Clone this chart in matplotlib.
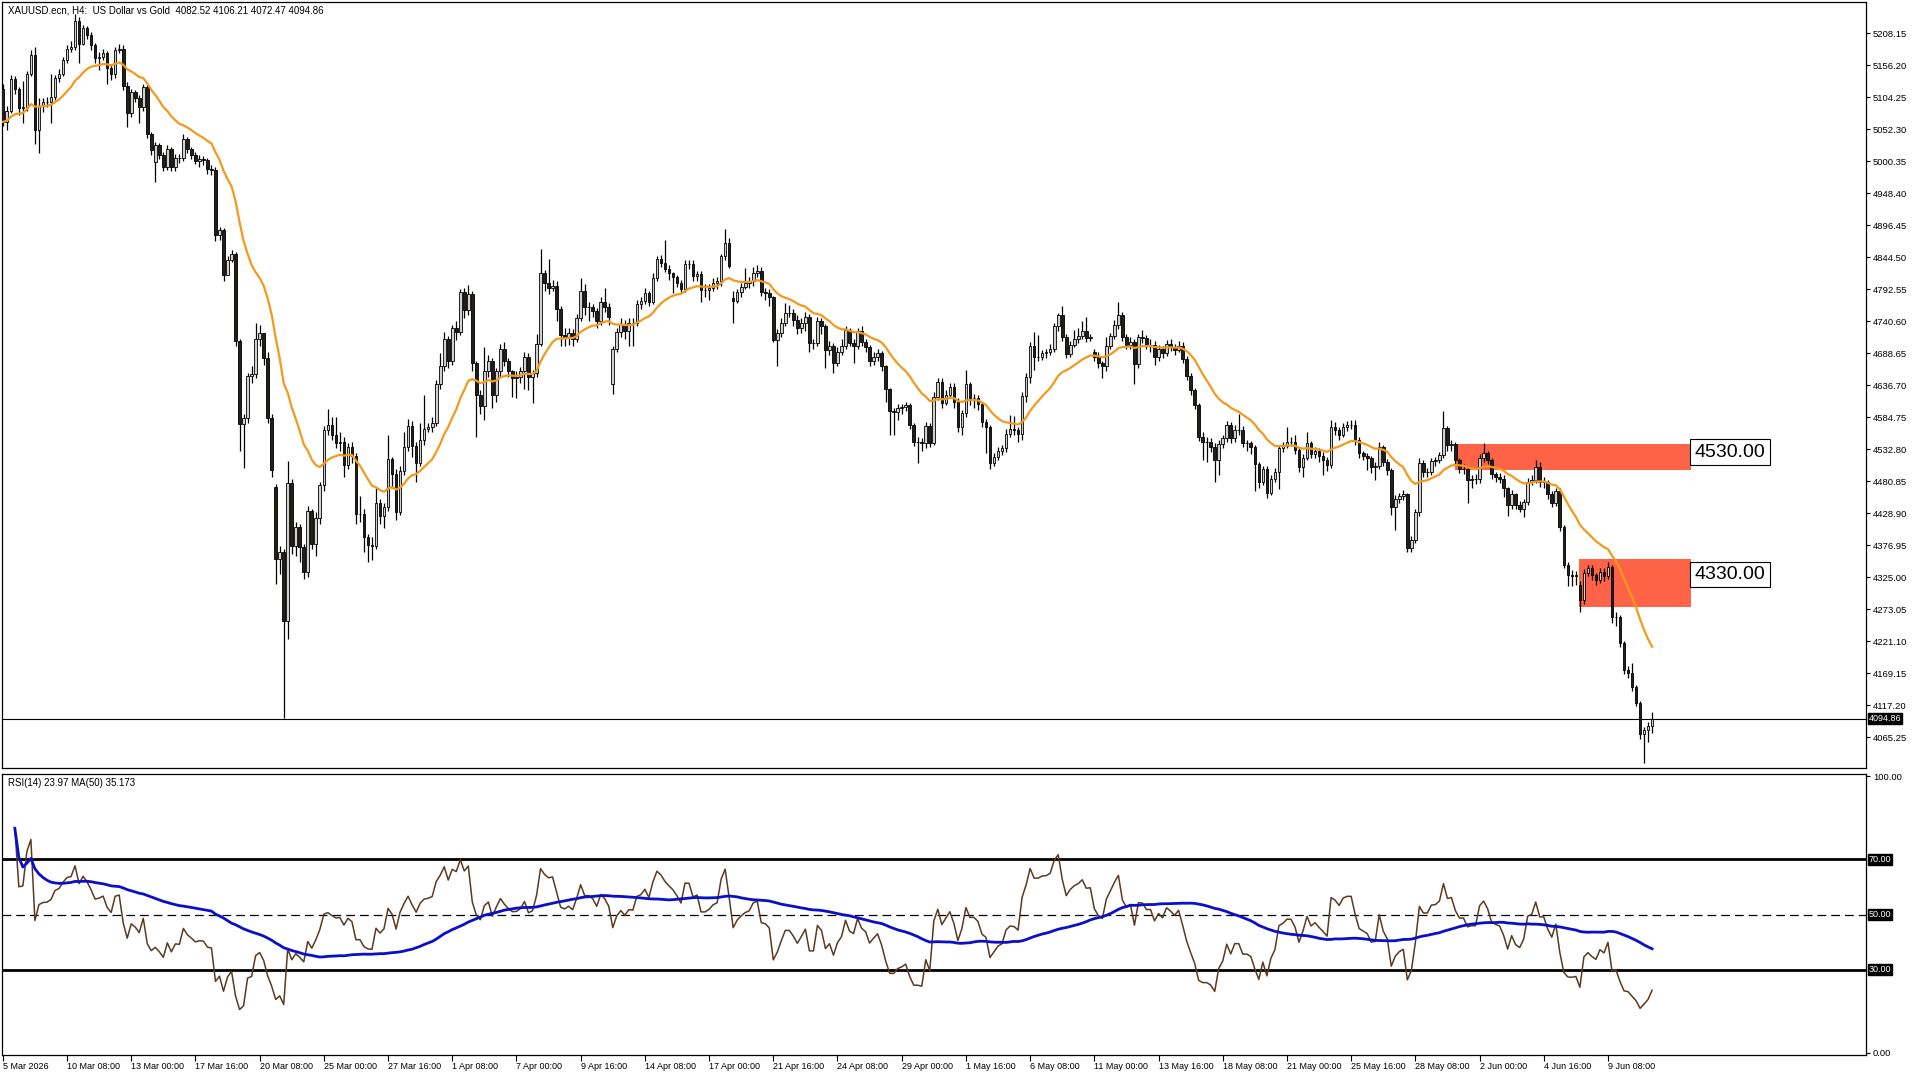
import numpy as np
import pandas as pd
import matplotlib
matplotlib.use("Agg")
import matplotlib.pyplot as plt
from matplotlib.patches import Rectangle

plt.rcParams['font.family'] = ['Liberation Sans', 'DejaVu Sans']

# H4 closes (bar 0 = 5 Mar 16:00)
closes = [
    5064, 5082, 5133, 5117, 5087, 5088, 5141, 5173, 5050, 5090,
    5096, 5097, 5105, 5135, 5142, 5165, 5183, 5186, 5228, 5190,
    5217, 5205, 5188, 5167, 5170, 5175, 5152, 5141, 5180, 5183,
    5122, 5079, 5112, 5103, 5088, 5120, 5044, 5019, 5026, 5011,
    4991, 5020, 4990, 5006, 5005, 5037, 5020, 5011, 5001, 5003,
    5002, 4988, 4986, 4880, 4888, 4816, 4840, 4850, 4709, 4574,
    4583, 4651, 4655, 4712, 4721, 4680, 4583, 4499, 4355, 4366,
    4253, 4477, 4376, 4406, 4374, 4334, 4432, 4379, 4421, 4474,
    4563, 4572, 4556, 4543, 4545, 4507, 4537, 4521, 4428, 4428,
    4390, 4377, 4375, 4446, 4424, 4439, 4516, 4493, 4431, 4498,
    4537, 4570, 4538, 4510, 4547, 4565, 4568, 4575, 4638, 4668,
    4711, 4675, 4729, 4723, 4788, 4758, 4784, 4672, 4621, 4602,
    4659, 4675, 4621, 4659, 4695, 4675, 4659, 4649, 4650, 4659,
    4682, 4650, 4656, 4704, 4818, 4803, 4794, 4798, 4760, 4718,
    4713, 4721, 4712, 4745, 4790, 4764, 4764, 4757, 4740, 4772,
    4763, 4747, 4695, 4723, 4736, 4725, 4738, 4737, 4769, 4773,
    4786, 4772, 4810, 4841, 4835, 4825, 4818, 4812, 4803, 4792,
    4833, 4833, 4813, 4817, 4791, 4791, 4795, 4802, 4805, 4846,
    4868, 4830, 4774, 4788, 4796, 4802, 4805, 4819, 4822, 4788,
    4786, 4779, 4710, 4721, 4738, 4754, 4754, 4743, 4729, 4738,
    4748, 4705, 4705, 4741, 4732, 4693, 4700, 4673, 4691, 4700,
    4726, 4705, 4700, 4724, 4706, 4699, 4676, 4683, 4689, 4667,
    4630, 4594, 4593, 4599, 4601, 4604, 4572, 4545, 4545, 4542,
    4570, 4542, 4617, 4641, 4608, 4621, 4634, 4610, 4568, 4591,
    4638, 4615, 4615, 4606, 4576, 4568, 4510, 4520, 4530, 4534,
    4558, 4565, 4564, 4557, 4619, 4650, 4700, 4683, 4683, 4689,
    4690, 4696, 4732, 4750, 4715, 4687, 4702, 4711, 4716, 4725,
    4713, 4714, 4683, 4672, 4667, 4700, 4716, 4734, 4750, 4714,
    4702, 4707, 4671, 4714, 4713, 4702, 4702, 4683, 4695, 4688,
    4704, 4699, 4693, 4700, 4679, 4652, 4629, 4604, 4553, 4545,
    4545, 4537, 4515, 4541, 4550, 4572, 4550, 4564, 4564, 4542,
    4542, 4537, 4509, 4480, 4500, 4461, 4484, 4496, 4534, 4538,
    4545, 4545, 4532, 4503, 4519, 4542, 4525, 4530, 4522, 4515,
    4507, 4568, 4564, 4556, 4569, 4572, 4572, 4548, 4526, 4522,
    4518, 4504, 4505, 4537, 4512, 4499, 4438, 4451, 4457, 4460,
    4373, 4386, 4431, 4511, 4495, 4495, 4514, 4515, 4523, 4567,
    4539, 4541, 4515, 4500, 4500, 4482, 4484, 4484, 4518, 4527,
    4515, 4492, 4488, 4485, 4469, 4442, 4460, 4442, 4436, 4447,
    4480, 4483, 4503, 4480, 4480, 4460, 4446, 4464, 4406, 4345,
    4328, 4327, 4328, 4288, 4332, 4339, 4328, 4320, 4334, 4326,
    4341, 4260, 4261, 4218, 4174, 4170, 4146, 4121, 4070, 4076,
    4082.52, 4094.86,
]

highs = [
    5125, 5090, 5140, 5138, 5120, 5130, 5146, 5180, 5186, 5103,
    5102, 5104, 5141, 5140, 5150, 5170, 5189, 5195, 5239, 5235,
    5222, 5220, 5210, 5192, 5178, 5182, 5179, 5158, 5186, 5190,
    5188, 5128, 5118, 5116, 5108, 5126, 5124, 5048, 5032, 5030,
    5015, 5026, 5024, 5012, 5012, 5044, 5040, 5024, 5015, 5010,
    5008, 5006, 4994, 4990, 4894, 4892, 4846, 4856, 4852, 4712,
    4590, 4656, 4668, 4737, 4735, 4718, 4690, 4590, 4476, 4375,
    4370, 4514, 4485, 4415, 4412, 4378, 4440, 4435, 4430, 4480,
    4570, 4598, 4585, 4585, 4560, 4552, 4542, 4545, 4526, 4457,
    4435, 4395, 4390, 4472, 4452, 4446, 4556, 4520, 4500, 4505,
    4560, 4581, 4578, 4545, 4575, 4621, 4575, 4585, 4645, 4688,
    4723, 4716, 4735, 4740, 4792, 4795, 4799, 4790, 4676, 4628,
    4699, 4686, 4680, 4665, 4704, 4706, 4680, 4662, 4660, 4666,
    4690, 4688, 4662, 4720, 4857, 4824, 4842, 4808, 4805, 4765,
    4730, 4730, 4728, 4752, 4810, 4800, 4772, 4768, 4762, 4780,
    4795, 4770, 4700, 4730, 4745, 4742, 4745, 4745, 4775, 4780,
    4795, 4790, 4818, 4846, 4848, 4872, 4832, 4820, 4816, 4808,
    4840, 4840, 4840, 4822, 4822, 4800, 4800, 4810, 4812, 4850,
    4890, 4876, 4790, 4792, 4802, 4826, 4812, 4828, 4832, 4828,
    4795, 4792, 4782, 4728, 4745, 4770, 4766, 4760, 4750, 4745,
    4755, 4752, 4712, 4748, 4746, 4736, 4708, 4705, 4698, 4712,
    4733, 4730, 4712, 4730, 4732, 4712, 4702, 4690, 4696, 4692,
    4670, 4632, 4600, 4606, 4606, 4610, 4608, 4575, 4552, 4550,
    4576, 4575, 4625, 4648, 4648, 4628, 4640, 4640, 4615, 4596,
    4661, 4642, 4622, 4620, 4610, 4582, 4572, 4526, 4536, 4540,
    4565, 4588, 4587, 4568, 4625, 4656, 4706, 4723, 4718, 4694,
    4696, 4703, 4738, 4754, 4765, 4720, 4708, 4726, 4730, 4740,
    4748, 4720, 4696, 4690, 4676, 4714, 4722, 4742, 4772, 4755,
    4720, 4715, 4712, 4720, 4726, 4718, 4712, 4708, 4702, 4700,
    4710, 4712, 4704, 4708, 4706, 4684, 4656, 4632, 4608, 4560,
    4552, 4550, 4542, 4548, 4556, 4578, 4576, 4572, 4590, 4570,
    4548, 4546, 4540, 4512, 4506, 4505, 4490, 4502, 4540, 4545,
    4569, 4552, 4555, 4536, 4525, 4560, 4546, 4536, 4534, 4528,
    4520, 4580, 4576, 4568, 4575, 4578, 4580, 4580, 4552, 4530,
    4526, 4522, 4512, 4545, 4540, 4516, 4502, 4458, 4462, 4466,
    4462, 4392, 4436, 4518, 4515, 4502, 4518, 4520, 4528, 4594,
    4570, 4548, 4545, 4518, 4508, 4505, 4490, 4492, 4525, 4542,
    4530, 4518, 4496, 4494, 4490, 4472, 4466, 4462, 4448, 4452,
    4486, 4490, 4515, 4512, 4488, 4482, 4465, 4470, 4470, 4410,
    4350, 4336, 4335, 4318, 4338, 4345, 4345, 4332, 4340, 4340,
    4350, 4345, 4268, 4264, 4222, 4180, 4186, 4150, 4124, 4082,
    4090, 4106.21,
]

lows = [
    5058, 5050, 5078, 5110, 5075, 5062, 5082, 5138, 5028, 5014,
    5080, 5088, 5062, 5100, 5128, 5138, 5160, 5178, 5180, 5160,
    5188, 5198, 5180, 5160, 5149, 5164, 5126, 5132, 5136, 5176,
    5115, 5056, 5072, 5096, 5062, 5082, 5038, 5010, 4966, 5004,
    4985, 4986, 4984, 4984, 4998, 5000, 5014, 5004, 4995, 4990,
    4994, 4980, 4978, 4870, 4872, 4805, 4826, 4836, 4700, 4530,
    4502, 4575, 4640, 4648, 4700, 4670, 4575, 4488, 4313, 4330,
    4097, 4225, 4362, 4360, 4350, 4322, 4325, 4370, 4360, 4412,
    4465, 4555, 4548, 4535, 4530, 4488, 4500, 4510, 4412, 4414,
    4366, 4350, 4352, 4370, 4412, 4405, 4432, 4470, 4418, 4426,
    4490, 4530, 4520, 4480, 4505, 4540, 4560, 4560, 4570, 4630,
    4660, 4665, 4670, 4710, 4718, 4745, 4750, 4660, 4553, 4590,
    4580, 4650, 4600, 4610, 4650, 4668, 4650, 4618, 4615, 4640,
    4630, 4628, 4607, 4650, 4700, 4790, 4785, 4790, 4740, 4700,
    4700, 4702, 4700, 4706, 4740, 4750, 4740, 4748, 4730, 4735,
    4755, 4735, 4623, 4690, 4715, 4712, 4700, 4700, 4732, 4760,
    4768, 4765, 4768, 4806, 4828, 4820, 4808, 4786, 4796, 4786,
    4788, 4825, 4806, 4806, 4772, 4780, 4775, 4790, 4792, 4798,
    4840, 4826, 4737, 4770, 4780, 4792, 4795, 4798, 4812, 4782,
    4775, 4765, 4707, 4667, 4715, 4732, 4748, 4732, 4720, 4722,
    4725, 4690, 4695, 4700, 4720, 4664, 4685, 4657, 4668, 4686,
    4695, 4700, 4672, 4696, 4700, 4690, 4668, 4670, 4675, 4660,
    4610, 4556, 4556, 4580, 4590, 4594, 4565, 4538, 4510, 4530,
    4535, 4536, 4540, 4612, 4600, 4605, 4615, 4600, 4560, 4555,
    4585, 4605, 4600, 4596, 4568, 4526, 4500, 4505, 4515, 4524,
    4528, 4552, 4556, 4545, 4548, 4610, 4640, 4661, 4676, 4678,
    4680, 4685, 4690, 4725, 4708, 4680, 4682, 4698, 4705, 4712,
    4706, 4708, 4675, 4665, 4648, 4660, 4695, 4712, 4728, 4708,
    4695, 4696, 4638, 4665, 4705, 4695, 4690, 4670, 4676, 4680,
    4684, 4692, 4685, 4690, 4672, 4645, 4620, 4598, 4546, 4515,
    4512, 4528, 4480, 4490, 4535, 4545, 4542, 4545, 4556, 4536,
    4530, 4525, 4464, 4470, 4475, 4453, 4458, 4480, 4468, 4528,
    4535, 4538, 4525, 4495, 4488, 4515, 4518, 4518, 4512, 4491,
    4498, 4502, 4555, 4548, 4552, 4562, 4565, 4540, 4518, 4515,
    4499, 4494, 4483, 4500, 4505, 4490, 4426, 4401, 4445, 4450,
    4365, 4366, 4380, 4425, 4488, 4488, 4490, 4505, 4510, 4518,
    4530, 4530, 4508, 4494, 4492, 4446, 4470, 4476, 4478, 4512,
    4508, 4485, 4480, 4478, 4455, 4425, 4436, 4436, 4430, 4422,
    4442, 4475, 4478, 4472, 4470, 4452, 4438, 4440, 4400, 4340,
    4310, 4310, 4312, 4269, 4282, 4326, 4320, 4312, 4315, 4318,
    4322, 4250, 4245, 4212, 4168, 4162, 4140, 4115, 4062, 4023,
    4058, 4072.47,
]

# opens that do not equal the previous close (first bar, weekend gaps)
gap_opens = {0: 5118, 38: 4999, 68: 4472, 152: 4638, 182: 4778, 272: 4690, 393: 4312}

time_labels = ['5 Mar 2026', '10 Mar 08:00', '13 Mar 00:00', '17 Mar 16:00', '20 Mar 08:00',
               '25 Mar 00:00', '27 Mar 16:00', '1 Apr 08:00', '7 Apr 00:00', '9 Apr 16:00',
               '14 Apr 08:00', '17 Apr 00:00', '21 Apr 16:00', '24 Apr 08:00', '29 Apr 00:00',
               '1 May 16:00', '6 May 08:00', '11 May 00:00', '13 May 16:00', '18 May 08:00',
               '21 May 00:00', '25 May 16:00', '28 May 08:00', '2 Jun 00:00', '4 Jun 16:00',
               '9 Jun 08:00']

# supply/demand zones: (label, low, high, first bar)
zones = [("4530.00", 4499, 4541, 361.8), ("4330.00", 4276, 4355, 392.8)]
zone_label_y = [4528, 4329]

price_ticks = [5208.15 - 51.95 * k for k in range(23)]
last_price = 4094.86

close = np.array(closes, dtype=float)
opens = np.r_[close[0], close[:-1]]
for i, v in gap_opens.items():
    opens[i] = v
high = np.maximum(np.array(highs, dtype=float), np.maximum(opens, close))
low = np.minimum(np.array(lows, dtype=float), np.minimum(opens, close))
x = np.arange(len(close))
n = len(close)

ma = pd.Series(close).ewm(span=20, adjust=False).mean()

# RSI(14): plain averages until 14 bars exist, Wilder smoothing after that
d = np.diff(close, prepend=close[0])
g = np.clip(d, 0, None)
l = np.clip(-d, 0, None)
ag = np.zeros(n)
al = np.zeros(n)
for i in range(1, n):
    if i <= 14:
        ag[i] = g[1:i + 1].mean()
        al[i] = l[1:i + 1].mean()
    else:
        ag[i] = (ag[i - 1] * 13 + g[i]) / 14
        al[i] = (al[i - 1] * 13 + l[i]) / 14
with np.errstate(divide='ignore', invalid='ignore'):
    rsi = 100 - 100 / (1 + ag / al)
rsi[:3] = np.nan
rsi = pd.Series(rsi)
rsi_ma = rsi.rolling(50, min_periods=1).mean()

fig = plt.figure(figsize=(19.2, 10.8), dpi=100)
ax = fig.add_axes([2 / 1920, 1 - 768 / 1080, 1864 / 1920, 766 / 1080])
ax2 = fig.add_axes([2 / 1920, 1 - 1055 / 1080, 1864 / 1920, 281 / 1080], sharex=ax)

# candles
bull = close >= opens
ax.vlines(x, low, high, color='black', lw=0.9, zorder=2)
ax.bar(x[bull], (close - opens)[bull], bottom=opens[bull], width=0.66,
       color='#d0d0d0', edgecolor='black', lw=0.6, zorder=3)
ax.bar(x[~bull], (close - opens)[~bull], bottom=opens[~bull], width=0.66,
       color='#231e19', edgecolor='black', lw=0.6, zorder=3)
ax.plot(x, ma, color='#f39a1c', lw=1.6, zorder=4)

for (lab, lo, hi, x0), ly in zip(zones, zone_label_y):
    ax.add_patch(Rectangle((x0, lo), 420.7 - x0, hi - lo, color='#ff6347', lw=0, zorder=1))
    ax.text(421.6, ly, lab, fontsize=14, va='center', ha='left', zorder=5,
            bbox=dict(boxstyle='square,pad=0.22', fc='white', ec='black', lw=0.8))

ax.axhline(last_price, color='black', lw=0.8, zorder=1)
ax.annotate(f'{last_price:.2f}', xy=(1, last_price), xycoords=('axes fraction', 'data'),
            xytext=(2, 0), textcoords='offset points', ha='left', va='center',
            color='white', fontsize=6.5,
            bbox=dict(boxstyle='square,pad=0.1', fc='black', ec='black'))

ax.set_xlim(-0.2, 464.3)
ax.set_ylim(4015.1, 5258.6)
ax.yaxis.tick_right()
ax.set_yticks(price_ticks)
ax.set_yticklabels([f'{v:.2f}' for v in price_ticks])
ax.tick_params(axis='y', direction='out', length=3, width=0.8, pad=2, labelsize=6.8)
ax.tick_params(axis='x', bottom=False, labelbottom=False)
ax.text(0.003, 0.996, 'XAUUSD.ecn, H4:  US Dollar vs Gold  4082.52 4106.21 4072.47 4094.86',
        transform=ax.transAxes, fontsize=7, va='top', ha='left')

# RSI panel
ax2.plot(x, rsi, color='#5a3b22', lw=1.1, zorder=3)
ax2.plot(x, rsi_ma, color='#0a10c8', lw=2, zorder=4)
ax2.axhline(70, color='black', lw=2)
ax2.axhline(30, color='black', lw=2)
ax2.axhline(50, color='black', lw=0.9, dashes=(7, 4))
ax2.set_ylim(-0.8, 100.8)
ax2.yaxis.tick_right()
ax2.set_yticks([0, 100])
ax2.set_yticklabels(['0.00', '100.00'])
ax2.tick_params(axis='y', direction='out', length=3, width=0.8, pad=2, labelsize=6.8)
for lv in [70, 50, 30]:
    ax2.annotate(f'{lv:.2f}', xy=(1, lv), xycoords=('axes fraction', 'data'),
                 xytext=(2, 0), textcoords='offset points', ha='left', va='center',
                 color='white', fontsize=6.5,
                 bbox=dict(boxstyle='square,pad=0.1', fc='black', ec='black'))
ax2.text(0.003, 0.985, 'RSI(14) 23.97 MA(50) 35.173', transform=ax2.transAxes,
         fontsize=7, va='top', ha='left')

ax2.set_xticks(np.arange(len(time_labels)) * 16)
ax2.set_xticklabels(time_labels)
ax2.tick_params(axis='x', direction='out', length=4, width=0.8, pad=1, labelsize=6.5)
plt.setp(ax2.get_xticklabels(), ha='left')

for a in (ax, ax2):
    for s in a.spines.values():
        s.set_linewidth(0.9)

fig.savefig('out.png', dpi=100)
